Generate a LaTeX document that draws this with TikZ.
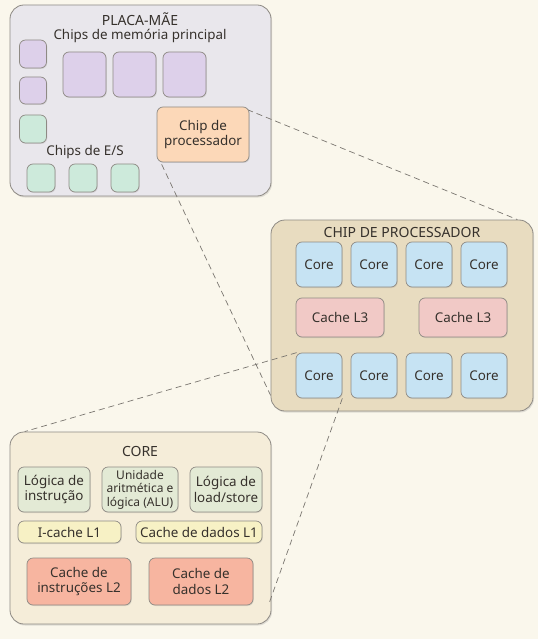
\documentclass[tikz,border=0pt]{standalone}
\usepackage{fontspec}
\setmainfont{Noto Sans}
\usetikzlibrary{shadows,calc}
\pgfdeclarelayer{bg}
\pgfdeclarelayer{lines}
\pgfsetlayers{bg,lines,main}
\definecolor{paper}{HTML}{FAF7EC}
\definecolor{bordc}{HTML}{8E8A84}
\definecolor{txt}{HTML}{36312C}
\definecolor{dashcol}{HTML}{7A7670}
\definecolor{mobo}{HTML}{E9E7EC}
\definecolor{purp}{HTML}{DDD0EA}
\definecolor{greenio}{HTML}{CDEADB}
\definecolor{orng}{HTML}{FCD8B8}
\definecolor{tan}{HTML}{E8DCC0}
\definecolor{coreblue}{HTML}{C6E3F3}
\definecolor{lthree}{HTML}{F1C9C6}
\definecolor{corebg}{HTML}{F5EDD9}
\definecolor{logic}{HTML}{E3EAD5}
\definecolor{lone}{HTML}{F7F1C5}
\definecolor{ltwo}{HTML}{F7B5A0}
\begin{document}
\begin{tikzpicture}[x=1pt,y=-1pt,
  every node/.style={font=\fontsize{13.4}{15.5}\selectfont, text=txt, align=center, inner sep=0pt},
  container/.style={draw=bordc, line width=0.8pt, rounded corners=14pt,
    drop shadow={shadow xshift=1pt, shadow yshift=-1.5pt, opacity=0.22}},
  chip/.style={draw=bordc, line width=0.7pt, rounded corners=6pt,
    drop shadow={shadow xshift=0.8pt, shadow yshift=-1pt, opacity=0.18}},
  conn/.style={draw=dashcol, dash pattern=on 6pt off 4pt, line width=0.7pt},
  small/.style={font=\fontsize{12}{13.4}\selectfont},
  title/.style={font=\fontsize{14}{16}\selectfont}]
\useasboundingbox (0,0) rectangle (538,639);

\begin{pgfonlayer}{bg}
\fill[paper] (0,0) rectangle (538,639);
\node[container, fill=mobo, minimum width=261, minimum height=191] (mobo) at (140.5,100.5) {};
\node[container, fill=tan, minimum width=262, minimum height=191] (cpu) at (402,315.5) {};
\node[container, fill=corebg, minimum width=261, minimum height=192] (corebox) at (140.5,528) {};
\end{pgfonlayer}

% motherboard
\node[title] (motitle) at (140,19) {PLACA-MÃE};
\node (memlabel) at (140,36) {Chips de memória principal};
\node[chip, fill=purp, minimum width=27, minimum height=28] (ms1) at (33,54) {};
\node[chip, fill=purp, minimum width=27, minimum height=27] (ms2) at (33,90.5) {};
\node[chip, fill=greenio, minimum width=27, minimum height=28] (io0) at (33,129) {};
\node[chip, fill=purp, minimum width=43, minimum height=45] (mb1) at (84.5,74.5) {};
\node[chip, fill=purp, minimum width=43, minimum height=45] (mb2) at (134.5,74.5) {};
\node[chip, fill=purp, minimum width=43, minimum height=45] (mb3) at (184.5,74.5) {};
\node[chip, fill=orng, minimum width=92, minimum height=55] (proc) at (203,134.5) {Chip de\\processador};
\node (iolabel) at (85,152) {Chips de E/S};
\node[chip, fill=greenio, minimum width=28, minimum height=28] (io1) at (41,178) {};
\node[chip, fill=greenio, minimum width=28, minimum height=28] (io2) at (83,178) {};
\node[chip, fill=greenio, minimum width=28, minimum height=28] (io3) at (125,178) {};

% processor chip
\node[title] (cputitle) at (402,232) {CHIP DE PROCESSADOR};
\foreach \i/\x in {1/319,2/374,3/429,4/484}{
  \node[chip, fill=coreblue, minimum width=46, minimum height=45] (ct\i) at (\x,264.5) {Core};
  \node[chip, fill=coreblue, minimum width=46, minimum height=45] (cb\i) at (\x,375.5) {Core};
}
\node[chip, fill=lthree, minimum width=88, minimum height=39] (l3a) at (340,317.5) {Cache L3};
\node[chip, fill=lthree, minimum width=88, minimum height=39] (l3b) at (463,317.5) {Cache L3};

% core
\node[title] (coretitle) at (140,451) {CORE};
\node[chip, fill=logic, minimum width=72, minimum height=45] (instr) at (54,489.5) {Lógica de\\instrução};
\node[chip, fill=logic, minimum width=76, minimum height=45, small] (alu) at (140,489.5) {Unidade\\aritmética e\\lógica (ALU)};
\node[chip, fill=logic, minimum width=72, minimum height=45] (ldst) at (226,489.5) {Lógica de\\load/store};
\node[chip, fill=lone, minimum width=103, minimum height=22] (icache) at (69.5,532) {I-cache L1};
\node[chip, fill=lone, minimum width=126, minimum height=22] (dcache) at (199,532) {Cache de dados L1};
\node[chip, fill=ltwo, minimum width=104, minimum height=47] (il2) at (79,581.5) {Cache de\\instruções L2};
\node[chip, fill=ltwo, minimum width=104, minimum height=47] (dl2) at (201,581.5) {Cache de\\dados L2};

\begin{pgfonlayer}{lines}
\draw[conn] ($(proc.north east)+(-2,3)$) -- ($(cpu.north east)+(-16,0)$);
\draw[conn] ($(proc.south west)+(5,2)$) -- ($(cpu.south west)+(0,-16)$);
\draw[conn] ($(cb1.north west)+(1,0)$) -- ($(corebox.north west)+(15,0)$);
\draw[conn] (cb1.south east) -- ($(corebox.south east)+(-2,-22)$);
\end{pgfonlayer}
\end{tikzpicture}
\end{document}
